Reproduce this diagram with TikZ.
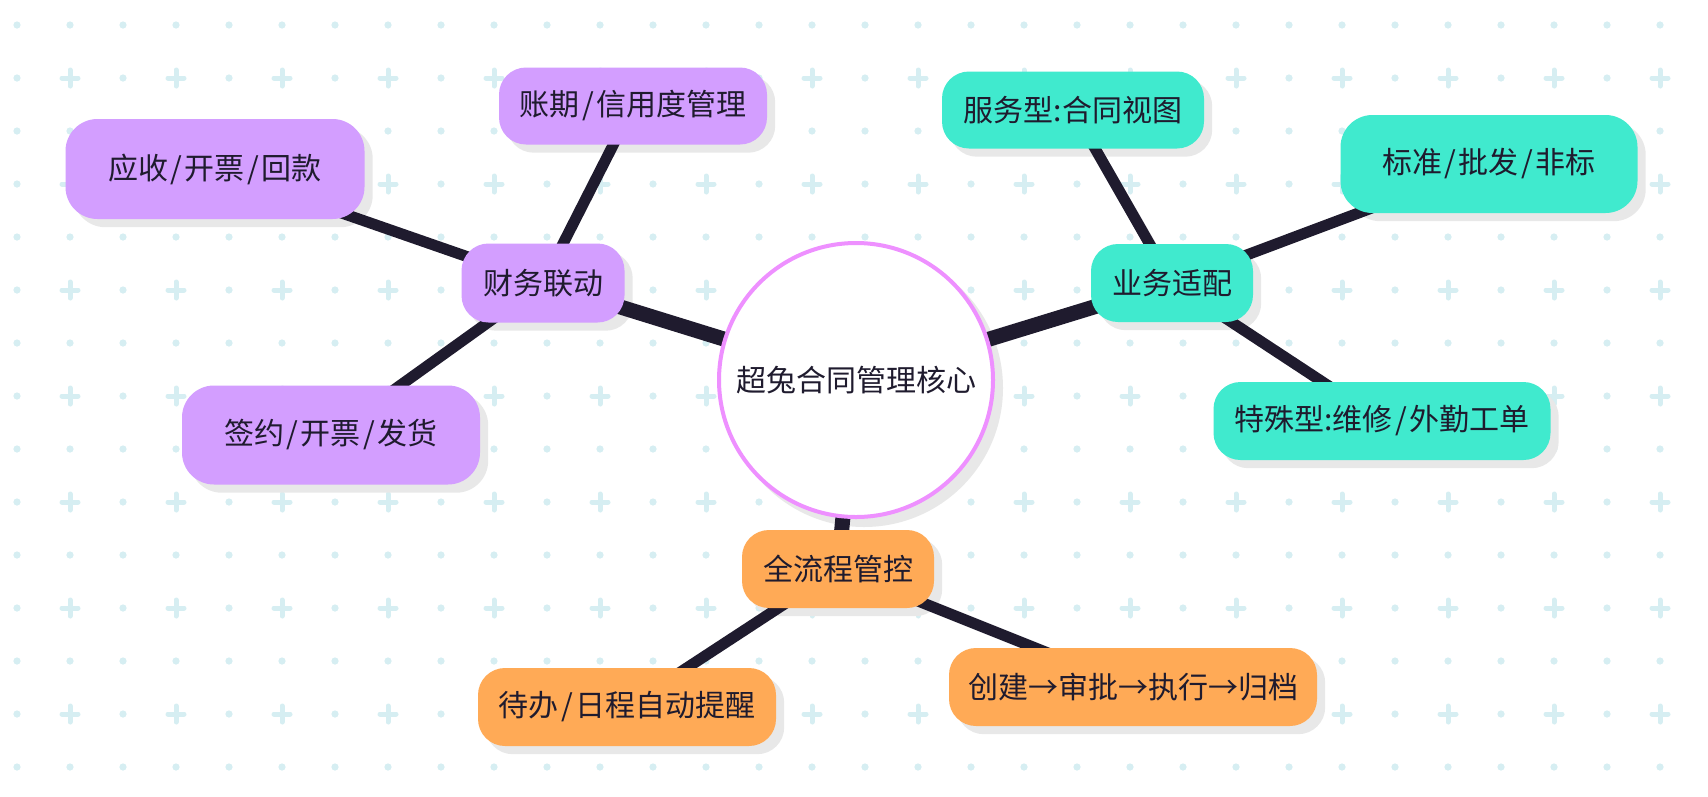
\documentclass[tikz,border=0pt]{standalone}
\usepackage{fontspec}
\setmainfont{Noto Sans CJK SC}
\usepackage{tikz}

\definecolor{inkdark}{RGB}{31,27,46}
\definecolor{lilac}{RGB}{211,158,255}
\definecolor{aqua}{RGB}{64,234,206}
\definecolor{apricot}{RGB}{255,170,86}
\definecolor{orchid}{RGB}{238,144,255}
\definecolor{shadegray}{RGB}{232,232,232}
\definecolor{gridcyan}{RGB}{214,238,242}

\newcommand{\slashgap}{\hspace{2.5pt}/\hspace{2.5pt}}

\pgfdeclarelayer{gridlayer}
\pgfdeclarelayer{shadelayer}
\pgfdeclarelayer{edgelayer}
\pgfsetlayers{gridlayer,shadelayer,edgelayer,main}

\begin{document}
\begin{tikzpicture}[x=1pt, y=-1pt,
  every node/.style={font=\fontsize{30pt}{36pt}\selectfont, text=inkdark, inner sep=0pt},
  topic/.style={rectangle, rounded corners=27pt, minimum height=78pt},
  core/.style={circle, draw=orchid, line width=4pt, fill=white, minimum size=274pt},
  trunk/.style={draw=inkdark, line width=15pt},
  twig/.style={draw=inkdark, line width=11pt},
  gridmark/.style={fill=gridcyan, draw=none}]
  \useasboundingbox (0,0) rectangle (1708,796);
  \begin{pgfonlayer}{gridlayer}
    \fill[white] (0,0) rectangle (1708,796);
    \foreach \i in {0,...,31}{
      \foreach \j in {0,...,14}{
        \pgfmathtruncatemacro{\odd}{mod(\i,2)*mod(\j,2)}
        \ifnum\odd=1
          \draw[gridcyan, line width=5pt, line cap=round] ({17+53*\i-8},{25+53*\j}) -- ({17+53*\i+8},{25+53*\j})
            ({17+53*\i},{25+53*\j-8}) -- ({17+53*\i},{25+53*\j+8});
        \else
          \fill[gridmark] ({17+53*\i},{25+53*\j}) circle (3.6);
        \fi
      }
    }
  \end{pgfonlayer}

  \node[core] (hub) at (856,380) {超兔合同管理核心};

  \node[topic, fill=lilac, minimum width=163pt, minimum height=79pt] (caiwu) at (543,283) {财务联动};
  \node[topic, fill=lilac, minimum width=268pt, minimum height=77pt] (zhangqi) at (633,106) {账期\slashgap 信用度管理};
  \node[topic, fill=lilac, minimum width=299pt, minimum height=100pt, rounded corners=32pt] (yingshou) at (215,169) {应收\slashgap 开票\slashgap 回款};
  \node[topic, fill=lilac, minimum width=298pt, minimum height=99pt, rounded corners=32pt] (qianyue) at (331,435) {签约\slashgap 开票\slashgap 发货};

  \node[topic, fill=aqua, minimum width=162pt] (yewu) at (1172,283) {业务适配};
  \node[topic, fill=aqua, minimum width=262pt, minimum height=77pt] (fuwu) at (1073,110) {服务型:合同视图};
  \node[topic, fill=aqua, minimum width=297pt, minimum height=98pt, rounded corners=32pt] (biaozhun) at (1489,164) {标准\slashgap 批发\slashgap 非标};
  \node[topic, fill=aqua, minimum width=337pt] (teshu) at (1382,421) {特殊型:维修\slashgap 外勤工单};

  \node[topic, fill=apricot, minimum width=192pt] (guankong) at (838,569) {全流程管控};
  \node[topic, fill=apricot, minimum width=298pt] (daiban) at (627,707) {待办\slashgap 日程自动提醒};
  \node[topic, fill=apricot, minimum width=368pt] (liucheng) at (1133,687) {创建→审批→执行→归档};

  \begin{pgfonlayer}{shadelayer}
    \fill[shadegray] ([shift={(8,8)}]hub.center) circle (139);
    \foreach \n/\r in {caiwu/27, zhangqi/27, yingshou/32, qianyue/32, yewu/27, fuwu/27, biaozhun/32, teshu/27, guankong/27, daiban/27, liucheng/27}
      \fill[shadegray, rounded corners=\r pt] ([shift={(8,8)}]\n.south west) rectangle ([shift={(8,8)}]\n.north east);
  \end{pgfonlayer}

  \begin{pgfonlayer}{edgelayer}
    \foreach \b in {caiwu, yewu, guankong}
      \draw[trunk] (hub.center) -- (\b.center);
    \foreach \a/\b in {caiwu/zhangqi, caiwu/yingshou, caiwu/qianyue, yewu/fuwu, yewu/biaozhun, yewu/teshu, guankong/daiban, guankong/liucheng}
      \draw[twig] (\a.center) -- (\b.center);
  \end{pgfonlayer}
\end{tikzpicture}
\end{document}
